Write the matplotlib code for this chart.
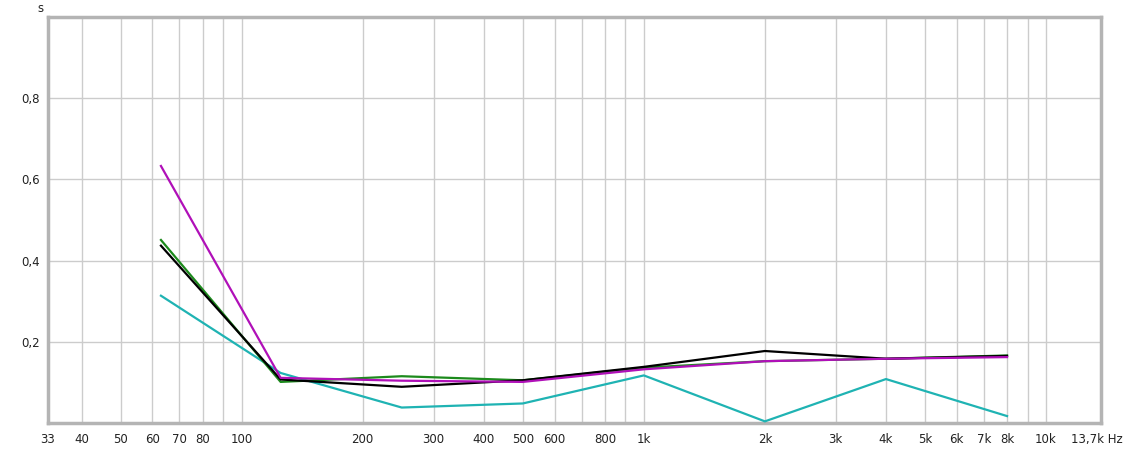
import numpy as np
import matplotlib
matplotlib.use('Agg')
import matplotlib.pyplot as plt
from matplotlib.ticker import FixedLocator, NullFormatter
from matplotlib.transforms import blended_transform_factory


# ====== Data (octave bands, reverberation time in s) ======

freqs = [63, 125, 250, 500, 1000, 2000, 4000, 8000]

t_cyan = [0.314, 0.124, 0.039, 0.049, 0.118, 0.005, 0.109, 0.018]
t_green = [0.451, 0.102, 0.116, 0.106, 0.137, 0.153, 0.159, 0.167]
t_black = [0.437, 0.108, 0.090, 0.106, 0.139, 0.178, 0.159, 0.166]
t_purple = [0.633, 0.112, 0.105, 0.102, 0.133, 0.153, 0.159, 0.163]

x_tick_pos = [33, 40, 50, 60, 70, 80, 100, 200, 300, 400, 500, 600, 800,
              1000, 2000, 3000, 4000, 5000, 6000, 7000, 8000, 10000]
x_tick_lab = ['33', '40', '50', '60', '70', '80', '100', '200', '300', '400',
              '500', '600', '800', '1k', '2k', '3k', '4k', '5k', '6k', '7k',
              '8k', '10k']
x_end_lab = '13,7k Hz'
y_tick_pos = [0.2, 0.4, 0.6, 0.8]
y_tick_lab = ['0,2', '0,4', '0,6', '0,8']

# ==========================================================

W, H = 1126, 451
fig = plt.figure(figsize=(W / 100, H / 100), dpi=100)
x0, x1, y_top, y_bot = 48, 1101, 16.7, 423.4
ax = fig.add_axes([x0 / W, (H - y_bot) / H, (x1 - x0) / W, (y_bot - y_top) / H])

ax.set_xscale('log')
ax.set_xlim(33, 13700)
ax.set_ylim(0, 1.0)

# vertical grid at every 1-2-3..9 step
grid_x = []
for dec in [10, 100, 1000, 10000]:
    for m in range(1, 10):
        f = dec * m
        if 33 < f < 13700:
            grid_x.append(f)
for f in grid_x:
    ax.axvline(f, color='#cccccc', lw=1.0, zorder=1)
for v in y_tick_pos:
    ax.axhline(v, color='#cccccc', lw=1.0, zorder=1)

ax.plot(freqs, t_cyan, color='#1fb3b3', lw=1.6, zorder=3)
ax.plot(freqs, t_green, color='#1c8a1c', lw=1.6, zorder=4)
ax.plot(freqs, t_black, color='#000000', lw=1.6, zorder=5)
ax.plot(freqs, t_purple, color='#b010b8', lw=1.6, zorder=6)

ax.xaxis.set_major_locator(FixedLocator(x_tick_pos))
ax.xaxis.set_minor_locator(FixedLocator([]))
ax.xaxis.set_minor_formatter(NullFormatter())
ax.set_xticklabels(x_tick_lab)
ax.set_yticks(y_tick_pos)
ax.set_yticklabels(y_tick_lab)
ax.tick_params(axis='both', length=0, labelsize=8.5, colors='#222222')
ax.tick_params(axis='x', pad=7)
ax.tick_params(axis='y', pad=6)

# last label with unit, right aligned at figure edge
fig.text(1123 / W, 1 - 440 / H, x_end_lab, ha='right', va='center',
         fontsize=8.5, color='#222222')

for sp in ax.spines.values():
    sp.set_color('#b4b4b4')
    sp.set_linewidth(2.5)

fig.text(40 / W, 1 - 8 / H, 's', ha='center', va='center', fontsize=8.5, color='#222222')

fig.savefig('out.png', dpi=100)
